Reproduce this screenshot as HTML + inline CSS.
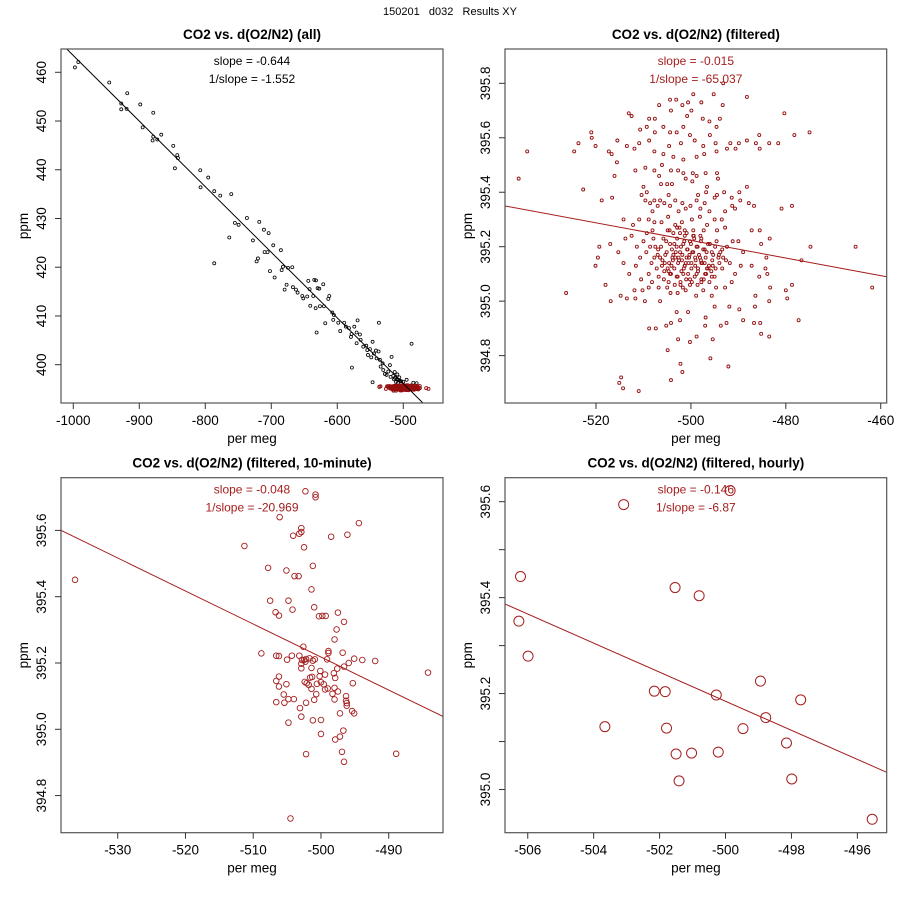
<!DOCTYPE html>
<html><head><meta charset="utf-8"><style>
html,body{margin:0;padding:0;background:#fff}
svg{display:block;font-family:"Liberation Sans",Arial,sans-serif}
</style></head><body>
<svg id="chart" width="900" height="900" viewBox="0 0 900 900" xmlns="http://www.w3.org/2000/svg"></svg>
<script>
// ---------- data ----------
const p1BlackX=[-997.5,-992.4,-945.5,-927.3,-927.3,-918.2,-919.2,-898.5,-894.9,-878.8,-879.8,-878.8,-872.7,-866.7,-848.5,-842.4,-841.4,-846.0,-807.6,-807.1,-795.5,-786.4,-777.3,-760.6,-786.4,-763.6,-755.1,-749.5,-736.9,-727.8,-722.2,-720.2,-718.2,-711.1,-710.1,-705.6,-704.0,-702.0,-697.0,-694.9,-685.4,-684.3,-682.3,-679.8,-676.8,-674.7,-668.2,-667.2,-662.6,-660.1,-653.0,-651.5,-645.5,-643.9,-641.9,-640.9,-636.4,-634.8,-632.3,-631.3,-632.8,-629.8,-627.3,-626.3,-621.2,-620.2,-618.2,-613.6,-612.1,-607.6,-605.1,-606.1,-598.5,-595.5,-589.4,-586.9,-582.3,-579.3,-578.3,-577.8,-574.2,-570.7,-569.2,-565.7,-570.7,-564.6,-560.6,-556.1,-554.5,-550.5,-553.5,-548.5,-546.5,-544.4,-541.4,-540.4,-536.9,-537.4,-535.4,-534.3,-531.3,-530.3,-527.8,-546.5,-525.3,-522.7,-520.2,-517.7,-519.2,-515.2,-512.6,-510.1,-507.6,-505.1,-487.4,-500,-494.9,-484.8,-479.8,-514,-511,-508,-506,-503,-509,-513];
const p1BlackY=[461.0,462.1,457.9,453.6,452.4,455.7,452.5,453.4,448.7,451.7,446.0,446.8,446.2,447.2,444.9,443.0,442.4,440.3,439.9,436.4,438.4,435.6,434.7,435.0,420.8,426.1,429.1,428.7,430.1,425.5,421.2,421.8,429.3,427.7,423.1,423.1,427.0,419.2,424.5,417.9,423.5,419.4,420.1,415.4,416.4,419.9,420.0,415.9,415.4,414.8,414.1,413.6,414.0,417.2,415.5,412.1,414.1,417.4,417.3,406.6,411.6,415.7,415.6,412.0,416.5,412.0,408.5,413.5,414.1,410.7,410.2,409.2,408.6,406.9,408.6,407.8,407.5,405.7,406.3,399.4,407.8,406.6,409.1,406.2,404.4,405.1,403.7,403.9,403.0,403.2,402.0,401.5,404.7,402.3,402.9,401.3,408.6,402.7,401.0,399.6,400.3,398.9,398.1,396.4,397.9,398.6,399.9,401.6,397.5,397.7,397.3,397.0,396.9,396.7,404.3,396.5,396.9,396.3,396.2,397.0,396.5,396.3,397.4,396.6,398.0,398.5];

const filtX=[-536.3,-534.5,-526.3,-524.6,-523.7,-522.7,-521.0,-520.9,-520.1,-518.8,-519.3,-519.6,-520.1,-518.0,-516.9,-517.3,-516.7,-516.6,-517.0,-516.1,-515.6,-515.5,-515.1,-514.7,-514.3,-514.8,-511.0,-513.5,-513.1,-512.5,-511.9,-511.7,-510.9,-510.7,-509.3,-508.8,-507.6,-506.7,-504.4,-503.1,-501.8,-500.6,-499.5,-499.9,-497.8,-495.2,-493.2,-493.3,-493.9,-488.2,-480.3,-478.2,-475.0,-488.2,-485.6,-486.3,-483.5,-481.6,-485.5,-488.2,-489.6,-487.8,-486.7,-480.9,-478.7,-487.2,-485.5,-483.4,-485.2,-474.8,-465.3,-476.7,-484.1,-487.2,-484.3,-485.6,-483.9,-483.3,-480.0,-478.7,-479.7,-461.8,-477.3,-486.4,-483.5,-486.5,-485.4,-483.5,-485.2,-486.7,-489.0,-489.8,-491.9,-492.5,-493.7,-492.1,-495.9,-495.4,-497.0,-498.8,-500.2,-501.8,-502.2,-504.2,-502.7,-504.9,-505.2,-507.4,-508.8,-504.2,-502.3,-500.6,-496.9,-495.0,-503.0,-509.7,-511.7,-513.5,-511.9,-510.2,-506.5,
-509.3,-510.0,-510.4,-509.6,-508.6,-507.7,-506.5,-505.6,-508.1,-507.0,-509.6,-507.7,-506.1,-506.7,-504.2,-502.7,-501.6,-499.6,-498.8,-496.9,-494.5,-494.3,-501.1,-499.7,-505.0,-506.3,-504.0,-496.6,-496.8,-498.5,-494.5,-493.0,-495.0,-498.8,-497.1,-500.1,-501.8,-503.3,-504.7,-504.4,-502.6,-501.1,-498.0,-496.1,-492.8,-491.3,-490.7,-491.4,-489.8,-508.9,-507.7,-506.2,-504.8,-503.3,-501.9,-499.8,-498.1,-496.6,-495.0,-493.5,-492.8,-494.5,-497.3,-499.5,-501.3,-502.9,-504.9,-508.1,-509.3,-510.9,-512.2,-514.2,-512.5,-513.8,-515.3,-514.2,-513.0,-511.6,-510.5,-508.9,-510.7,-509.4,-511.4,-510.0,-507.9,-508.6,-507.7,-507.2,-508.2,-508.9,-506.8,-505.7,-505.0,-504.3,-502.8,-501.1,-502.2,-500.2,-498.9,-497.4,-495.6,-494.7,-492.8,-491.4,-490.7,-489.5,-489.0,-490.0,-491.2,-492.4,-493.2,-491.8,-493.4,-495.0,-496.8,-495.4,-494.2,
-505.8,-504.4,-503.0,-501.6,-500.2,-498.8,-497.4,-496.0,-494.6,-505.1,-503.7,-502.3,-500.9,-499.5,-498.1,-496.7,-495.3,-505.5,-504.1,-502.7,-501.3,-499.9,-498.5,-497.1,-504.4,-503.0,-501.6,-500.2,-498.8,-506.5,-506.9,-501.3,-499.5,-497.8,-502.3,-503.7,-500.8,-501.9,-500.5,-499.1,-503.3,-504.7,-497.8,-495.7,-497.8,
-505.8,-504.4,-503.0,-501.6,-500.2,-499.2,-497.4,-496.0,-494.6,-494.8,-494.6,-497.2,-498.8,-501.6,-503.7,-505.8,-507.7,-508.8,-504.6,-502.1,-507.6,-504.2,-500.8,-496.1,-497.5,-492.4,-491.7,-490.6,-489.9,
-506.3,-505.2,-504.0,-503.5,-502.9,-502.1,-501.4,-500.7,-500.0,-499.3,-498.6,-497.9,-497.1,-496.4,-495.6,-494.9,-494.1,-493.4,-506.0,-505.4,-504.6,-503.9,-503.2,-502.5,-501.8,-501.1,-500.4,-499.7,-499.0,-498.3,-497.6,-496.9,-496.2,-495.5,-494.8,-494.0,-505.6,-504.9,-504.2,-503.5,-502.8,-502.0,-501.3,-500.6,-499.9,-499.2,-498.5,-497.8,-497.0,-496.3,-495.6,-507.0,-506.1,-503.8,-502.6,-501.5,-500.3,-499.1,-497.9,-496.6,-504.7,-503.4,-502.2,-501.0,-499.8,-498.6,-497.3,-496.1,-507.5,-493.8,-492.6,-508.3,-506.8,-504.5,-500.9,-499.4,-498.0,-502.4,-501.7,-500.5];
const filtY=[395.45,395.55,395.03,395.55,395.58,395.41,395.62,395.60,395.57,395.37,395.20,395.16,395.13,395.06,395.00,395.55,395.54,395.38,395.21,395.46,395.51,395.59,394.70,394.72,394.68,395.02,394.67,395.57,395.69,395.68,395.56,395.48,395.58,395.63,395.64,395.67,395.67,395.72,395.74,395.74,395.72,395.73,395.76,395.70,395.73,395.76,395.80,395.72,395.67,395.75,395.69,395.61,395.62,395.59,395.61,395.58,395.58,395.58,395.56,395.42,395.37,395.36,395.35,395.34,395.35,395.26,395.26,395.23,395.21,395.20,395.20,395.15,395.16,395.13,395.12,395.09,395.10,395.05,395.04,395.06,395.01,395.05,394.93,395.02,395.00,394.98,394.92,394.87,394.88,394.92,394.93,394.97,394.98,394.92,394.91,394.76,394.79,394.86,394.91,394.87,394.85,394.74,394.77,394.71,394.86,394.82,394.91,394.90,394.90,394.92,394.93,394.96,394.94,394.98,394.96,395.00,395.01,395.01,395.04,395.04,395.00,
395.40,395.42,395.39,395.37,395.36,395.37,395.37,395.36,395.33,395.35,395.49,395.48,395.50,395.46,395.48,395.48,395.47,395.47,395.46,395.47,395.47,395.45,395.45,395.44,395.43,395.43,395.43,395.42,395.40,395.39,395.39,395.40,395.38,395.37,395.36,395.35,395.36,395.37,395.39,395.35,395.33,395.34,395.34,395.33,395.33,395.35,395.34,395.38,395.40,395.30,395.29,395.29,395.31,395.28,395.29,395.30,395.31,395.28,395.30,395.30,395.27,395.26,395.26,395.26,395.26,395.27,395.26,395.26,395.25,395.30,395.28,395.30,395.24,395.23,395.18,395.14,395.10,395.13,395.08,395.10,395.16,395.18,395.20,395.22,395.23,395.20,395.16,395.12,395.07,395.05,395.05,395.08,395.05,395.03,395.03,395.04,395.06,395.06,395.02,395.04,395.02,395.05,395.05,395.07,395.10,395.13,395.18,395.22,395.22,395.20,395.16,395.14,395.12,395.09,395.10,395.13,395.16,
395.23,395.21,395.20,395.21,395.22,395.20,395.19,395.21,395.22,395.18,395.17,395.18,395.16,395.18,395.16,395.18,395.17,395.14,395.13,395.14,395.13,395.14,395.12,395.14,395.10,395.09,395.10,395.08,395.10,395.16,395.19,395.24,395.24,395.23,395.25,395.25,395.19,395.15,395.14,395.16,395.16,395.11,395.14,395.11,395.07,
395.64,395.62,395.62,395.64,395.61,395.59,395.57,395.61,395.64,395.58,395.55,395.54,395.53,395.52,395.53,395.54,395.55,395.59,395.57,395.58,395.62,395.70,395.68,395.66,395.67,395.56,395.58,395.56,395.58,
395.20,395.22,395.19,395.21,395.23,395.20,395.22,395.19,395.21,395.23,395.20,395.22,395.19,395.21,395.18,395.20,395.17,395.19,395.15,395.17,395.14,395.16,395.18,395.15,395.17,395.14,395.16,395.18,395.15,395.17,395.14,395.16,395.13,395.15,395.12,395.14,395.11,395.12,395.10,395.12,395.09,395.11,395.13,395.10,395.12,395.09,395.11,395.08,395.10,395.12,395.09,395.17,395.13,395.15,395.16,395.12,395.17,395.13,395.15,395.12,395.07,395.06,395.07,395.08,395.07,395.06,395.08,395.07,395.20,395.18,395.15,395.14,395.09,395.26,395.25,395.24,395.24,395.27,395.05];

const tenMinX=[-502.3,-500.8,-500.8,-506.1,-494.4,-502.9,-502.9,-503.2,-504.1,-498.5,-496.1,-511.3,-502.5,-501.2,-507.8,-505.1,-503.9,-503.3,-501.4,-536.3,-507.5,-504.8,-506.7,-506.2,-504.2,-501.0,-500.3,-499.8,-499.3,-497.5,-496.6,-497.7,-498.0,-502.6,-498.9,-498.9,-496.8,-508.8,-506.6,-506.2,-504.3,-503.2,-505.0,-502.8,-502.5,-502.2,-501.7,-501.2,-500.9,-502.3,-502.9,-502.9,-501.4,-499.1,-495.1,-493.9,-492.0,-495.9,-496.6,-497.6,-500.1,-499.4,-498.1,-497.9,-500.2,-501.6,-501.3,-506.2,-506.6,-506.2,-505.1,-502.4,-502.1,-501.8,-501.4,-500.6,-500.0,-499.6,-499.4,-499.0,-498.0,-497.5,-498.3,-498.0,-496.3,-496.3,-496.2,-496.2,-495.3,-501.0,-500.7,-502.2,-504.0,-504.8,-505.5,-505.4,-506.6,-503.1,-502.9,-504.8,-501.2,-500.0,-497.2,-495.4,-495.1,-496.7,-497.2,-500.0,-497.9,-496.9,-502.2,-496.6,-488.9,-484.2,-504.5];
const tenMinY=[395.718,395.708,395.700,395.640,395.622,395.607,395.595,395.590,395.584,395.581,395.587,395.553,395.549,395.493,395.487,395.479,395.462,395.462,395.422,395.451,395.388,395.388,395.353,395.343,395.361,395.368,395.341,395.342,395.342,395.352,395.324,395.301,395.271,395.249,395.236,395.230,395.231,395.229,395.222,395.221,395.222,395.222,395.210,395.209,395.209,395.212,395.214,395.207,395.211,395.204,395.198,395.184,395.185,395.211,395.213,395.209,395.206,395.200,395.189,395.183,395.176,395.165,395.169,395.155,395.160,395.156,395.158,395.159,395.146,395.129,395.136,395.143,395.139,395.134,395.122,395.137,395.142,395.136,395.120,395.123,395.125,395.114,395.107,395.090,395.100,395.086,395.079,395.071,395.139,395.089,395.106,395.080,395.091,395.091,395.105,395.080,395.082,395.064,395.038,395.020,395.027,395.028,395.048,395.055,395.048,394.996,394.978,394.986,394.969,394.932,394.925,394.902,394.926,395.171,394.731];

const hourX=[-503.09,-499.86,-506.22,-501.53,-500.80,-506.27,-505.99,-502.16,-501.83,-498.94,-500.28,-497.72,-498.78,-503.66,-501.79,-499.47,-498.15,-501.50,-501.03,-500.22,-501.41,-497.99,-495.55];
const hourY=[395.594,395.623,395.444,395.421,395.404,395.351,395.278,395.205,395.204,395.226,395.197,395.187,395.150,395.131,395.128,395.127,395.097,395.074,395.076,395.078,395.018,395.022,394.938];

const p1XTicks=[-1000,-900,-800,-700,-600,-500];
const p1YTicks=[400,410,420,430,440,450,460];
const p2XTicks=[-520,-500,-480,-460];
const p2YTicks=[394.8,395.0,395.2,395.4,395.6,395.8];
const p3XTicks=[-530,-520,-510,-500,-490];
const p3YTicks=[394.8,395.0,395.2,395.4,395.6];
const p4XTicks=[-506,-504,-502,-500,-498,-496];
const p4YTicks=[395.0,395.1,395.2,395.3,395.4,395.5,395.6];
const p4YLabels=["395.0","","395.2","","395.4","","395.6"];

const fitIntercept=[328.85,393.608,390.238,380.034];
const fitSlope=[-0.1346,-0.00323,-0.00996,-0.0303];
const slopeText=["slope = -0.644","slope = -0.015","slope = -0.048","slope = -0.146"];
const invSlopeText=["1/slope = -1.552","1/slope = -65.037","1/slope = -20.969","1/slope = -6.87"];

// ---------- drawing ----------
const NS="http://www.w3.org/2000/svg";
const svg=document.getElementById('chart');
const RED="#a51d1d";
const DARKRED="#950f0f";
function mk(tag,attrs,parent){const e=document.createElementNS(NS,tag);for(const k in attrs)e.setAttribute(k,attrs[k]);(parent||svg).appendChild(e);return e;}

const t0=mk('text',{x:450,y:15,'text-anchor':'middle','font-size':11,fill:'#000',style:'white-space:pre'});


t0.textContent="150201   d032   Results XY";

function panel(idx,cfg){
  const g=mk('g',{});
  
  
  const L=cfg.box[0],T=cfg.box[1],R=cfg.box[2],B=cfg.box[3];
  const sx=v=>L+(v-cfg.xd[0])/(cfg.xd[1]-cfg.xd[0])*(R-L);
  const sy=v=>B-(v-cfg.yd[0])/(cfg.yd[1]-cfg.yd[0])*(B-T);
  const title=mk('text',{x:(L+R)/2,y:T-10,'text-anchor':'middle','font-size':13.5,'font-weight':'bold'},g);
  
  
  title.textContent=cfg.title;
  const cp=mk('clipPath',{id:'clip'+idx},g);
  mk('rect',{x:L,y:T,width:R-L,height:B-T},cp);
  const pts=mk('g',{'clip-path':'url(#clip'+idx+')'},g);
  
  
  cfg.series.forEach(s=>{
    for(let i=0;i<s.x.length;i++){
      const c=mk('circle',{cx:sx(s.x[i]),cy:sy(s.y[i]),r:s.r,fill:'none',stroke:s.color,'stroke-width':s.sw},pts);
      
      
    }
  });
  const a=fitIntercept[idx],b=fitSlope[idx];
  const ln=mk('line',{x1:sx(cfg.xd[0]),y1:sy(a+b*cfg.xd[0]),x2:sx(cfg.xd[1]),y2:sy(a+b*cfg.xd[1]),stroke:cfg.lineColor,'stroke-width':1,'clip-path':'url(#clip'+idx+')'},g);
  
  
  const fr=mk('rect',{x:L,y:T,width:R-L,height:B-T,fill:'none',stroke:'#555','stroke-width':1.2},g);
  
  
  cfg.xt.forEach(v=>{
    const x=sx(v);
    const tk=mk('line',{x1:x,y1:B,x2:x,y2:B+6,stroke:'#333'},g);
    
    
    const tl=mk('text',{x:x,y:B+22,'text-anchor':'middle','font-size':13.5},g);
    
    
    tl.textContent=String(v);
  });
  cfg.yt.forEach((v,i)=>{
    const y=sy(v);
    const tk=mk('line',{x1:L-6,y1:y,x2:L,y2:y,stroke:'#333'},g);
    
    
    const lab=cfg.yl?cfg.yl[i]:cfg.yfmt(v);
    if(lab){
      const tl=mk('text',{x:L-15,y:y,'text-anchor':'middle','font-size':13.5,transform:'rotate(-90 '+(L-15)+' '+y+')'},g);
      
      
      tl.textContent=lab;
    }
  });
  const xl=mk('text',{x:(L+R)/2,y:B+40,'text-anchor':'middle','font-size':13.5},g);
  
  
  xl.textContent="per meg";
  const yx=L-33,yy=(T+B)/2;
  const yl=mk('text',{x:yx,y:yy,'text-anchor':'middle','font-size':13.5,transform:'rotate(-90 '+yx+' '+yy+')'},g);
  
  
  yl.textContent="ppm";
  const cx=(L+R)/2+cfg.txo;
  const s1=mk('text',{x:cx,y:T+16,'text-anchor':'middle','font-size':12,fill:cfg.lineColor},g);
  
  
  s1.textContent=slopeText[idx];
  const s2=mk('text',{x:cx,y:T+34,'text-anchor':'middle','font-size':12,fill:cfg.lineColor},g);
  
  
  s2.textContent=invSlopeText[idx];
}
const f0=v=>String(v), f1=v=>v.toFixed(1);
panel(0,{name:'panel-all',title:'CO2 vs. d(O2/N2) (all)',box:[61,49,443,403],xd:[-1018.6,-439.8],yd:[392.14,464.78],xt:p1XTicks,yt:p1YTicks,yfmt:f0,lineColor:'#000',txo:0,
  series:[{x:p1BlackX,y:p1BlackY,r:1.5,sw:0.8,color:'#000'},{x:filtX,y:filtY,r:1.5,sw:0.9,color:DARKRED}]});
panel(1,{name:'panel-filtered',title:'CO2 vs. d(O2/N2) (filtered)',box:[505,49,886.7,403],xd:[-539.18,-458.74],yd:[394.626,395.926],xt:p2XTicks,yt:p2YTicks,yfmt:f1,lineColor:RED,txo:0,
  series:[{x:filtX,y:filtY,r:1.5,sw:0.9,color:DARKRED}]});
panel(2,{name:'panel-10-minute',title:'CO2 vs. d(O2/N2) (filtered, 10-minute)',box:[61,477.7,443,832.7],xd:[-538.37,-481.99],yd:[394.688,395.759],xt:p3XTicks,yt:p3YTicks,yfmt:f1,lineColor:RED,txo:0,
  series:[{x:tenMinX,y:tenMinY,r:2.8,sw:0.9,color:RED}]});
panel(3,{name:'panel-hourly',title:'CO2 vs. d(O2/N2) (filtered, hourly)',box:[505,477.7,886.7,832.7],xd:[-506.69,-495.11],yd:[394.910,395.65],xt:p4XTicks,yt:p4YTicks,yl:p4YLabels,yfmt:f1,lineColor:RED,txo:0,
  series:[{x:hourX,y:hourY,r:5,sw:1,color:RED}]});
</script>
</body></html>
